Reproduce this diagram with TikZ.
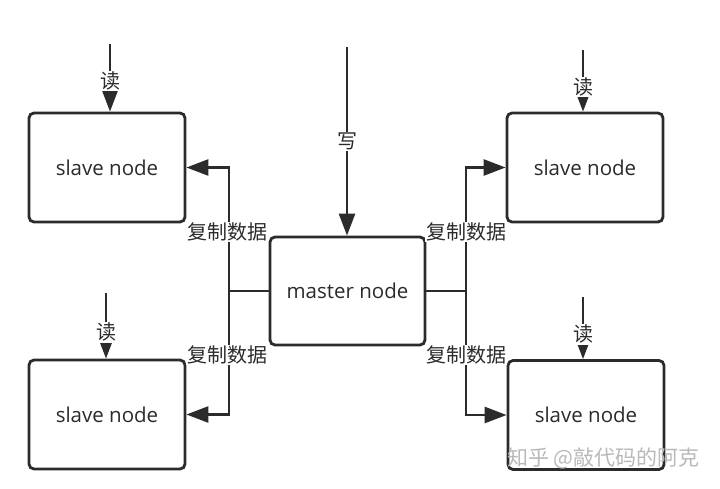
\documentclass[tikz,border=0pt]{standalone}
\usepackage{fontspec}
\setmainfont{Open Sans}
\newfontfamily\cjk{Noto Sans CJK SC}
\usetikzlibrary{arrows.meta}
\definecolor{ink}{HTML}{2B2B2B}
\tikzset{
  box/.style={draw=ink, line width=2.8pt, rounded corners=5pt, fill=white,
    minimum width=156pt, minimum height=109pt, inner sep=0pt,
    font=\fontsize{20.5}{22}\selectfont, text=ink},
  conn/.style={draw=ink, line width=2.6pt},
  arr/.style={conn, -{Triangle[length=22pt,width=16pt]}},
  lbl/.style={fill=white, inner sep=1pt, text=ink, font=\cjk\fontsize{20}{22}\selectfont}
}
\begin{document}
\begin{tikzpicture}[x=1pt,y=-1pt]
\useasboundingbox[fill=white] (0,0) rectangle (720,488);
% nodes
\node[box] (slaveTL) at (107,167.5) {slave node};
\node[box] (slaveBL) at (107,414.5) {slave node};
\node[box] (slaveTR) at (585,167.5) {slave node};
\node[box] (slaveBR) at (586,415) {slave node};
\node[box, minimum width=155pt, minimum height=108pt] (master) at (347.5,291) {master node};
% read arrows
\coordinate (rTL) at (110,44);
\coordinate (rBL) at (106,293);
\coordinate (rTR) at (583,50);
\coordinate (rBR) at (583,297);
\draw[arr] (rTL) -- node[lbl,pos=0.55] (lrTL) {读} (rTL |- slaveTL.north);
\draw[arr] (rBL) -- node[lbl,pos=0.6] (lrBL) {读} (rBL |- slaveBL.north);
\draw[arr] (rTR) -- node[lbl,pos=0.6] (lrTR) {读} (rTR |- slaveTR.north);
\draw[arr] (rBR) -- node[lbl,pos=0.6] (lrBR) {读} (rBR |- slaveBR.north);
% write arrow
\coordinate (w) at (347,47);
\draw[arr] (w) -- node[lbl,pos=0.5] (lw) {写} (w |- master.north);
% replication
\coordinate (jL) at (229,291);
\coordinate (jR) at (466,291);
\draw[conn] (master.west) -- (jL);
\draw[conn] (master.east) -- (jR);
\draw[arr] (jL) |- (slaveTL.east);
\draw[arr] (jL) |- (slaveBL.east);
\draw[arr] (jR) |- (slaveTR.west);
\draw[arr] (jR) |- (slaveBR.west);
\node[lbl] (cTL) at (227,232) {复制数据};
\node[lbl] (cBL) at (227,355) {复制数据};
\node[lbl] (cTR) at (466,232) {复制数据};
\node[lbl] (cBR) at (466,355) {复制数据};
% watermark
\node[text=gray!55, font=\cjk\fontsize{21}{23}\selectfont, anchor=west, inner sep=0pt] (wm) at (507,458) {知乎\ @敲代码的阿克};
\end{tikzpicture}
\end{document}
